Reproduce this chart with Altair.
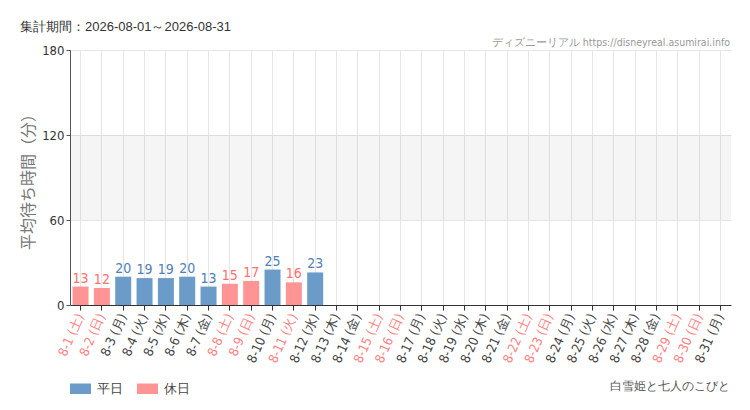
import pandas as pd
import altair as alt

# data
days = ["8-1 (土)", "8-2 (日)", "8-3 (月)", "8-4 (火)", "8-5 (水)", "8-6 (木)", "8-7 (金)",
        "8-8 (土)", "8-9 (日)", "8-10 (月)", "8-11 (火)", "8-12 (水)", "8-13 (木)", "8-14 (金)",
        "8-15 (土)", "8-16 (日)", "8-17 (月)", "8-18 (火)", "8-19 (水)", "8-20 (木)", "8-21 (金)",
        "8-22 (土)", "8-23 (日)", "8-24 (月)", "8-25 (火)", "8-26 (水)", "8-27 (木)", "8-28 (金)",
        "8-29 (土)", "8-30 (日)", "8-31 (月)"]
waits = [13, 12, 20, 19, 19, 20, 13, 15, 17, 25, 16, 23] + [None] * 19
holidays = ["8-1 (土)", "8-2 (日)", "8-8 (土)", "8-9 (日)", "8-11 (火)", "8-15 (土)", "8-16 (日)",
            "8-22 (土)", "8-23 (日)", "8-29 (土)", "8-30 (日)"]
y_ticks = [0, 60, 120, 180]
band_lo = [60]
band_hi = [120]

types = ["休日" if d in holidays else "平日" for d in days]
df = pd.DataFrame({"day": days, "wait": waits, "type": types})
band = pd.DataFrame({"lo": band_lo, "hi": band_hi})

W, H = 661, 255
BLUE, RED = "#6b9bc8", "#ff9494"
NARROW = "DejaVu Sans Condensed"
hol_test = "indexof(" + str(holidays).replace("'", '"') + ", datum.value) >= 0"

x = alt.X("day:N", sort=days, title=None,
          scale=alt.Scale(paddingInner=0.25, paddingOuter=0.12),
          axis=alt.Axis(labelAngle=-66, labelAlign="right", labelBaseline="middle",
                        labelFontSize=13, labelPadding=4, labelFont=NARROW,
                        labelColor={"condition": {"test": hol_test, "value": "#ff7f7f"}, "value": "#444"},
                        bandPosition=0.5, grid=True, gridColor="#e6e6e6",
                        domainColor="#333", tickColor="#333", tickSize=5))
y = alt.Y("wait:Q", title="平均待ち時間（分）",
          scale=alt.Scale(domain=[0, 180]),
          axis=alt.Axis(values=y_ticks, gridColor="#e6e6e6", domainColor="#555",
                        tickColor="#555", tickSize=4, labelFontSize=13, labelFont=NARROW,
                        labelColor="#333", titleFontSize=16, titleColor="#777777",
                        titleFont="Noto Sans CJK JP", titleFontWeight="normal", titlePadding=5))

shade = alt.Chart(band).mark_rect(color="#000", opacity=0.04).encode(
    x=alt.value(0), x2=alt.value(W), y="lo:Q", y2="hi:Q")

bars = alt.Chart(df).mark_bar().encode(
    x=x, y=y,
    color=alt.Color("type:N", scale=alt.Scale(domain=["平日", "休日"], range=[BLUE, RED]),
                    legend=alt.Legend(title=None, orient="none", legendX=0, legendY=328,
                                      direction="horizontal",
                                      symbolType="M-1,-0.5H1V0.5H-1Z", symbolSize=441,
                                      symbolStrokeWidth=0, symbolOpacity=1,
                                      labelFontSize=13, labelColor="#444",
                                      columnPadding=14, labelOffset=6)))

labels = alt.Chart(df).mark_text(baseline="bottom", dy=-1, fontSize=14, font=NARROW).encode(
    x=alt.X("day:N", sort=days), y="wait:Q", text="wait:Q",
    color=alt.condition(alt.datum.type == "休日", alt.value("#ff7070"), alt.value("#4f80b6")))

period = alt.Chart(pd.DataFrame({"t": ["集計期間：2026-08-01～2026-08-31"]})).mark_text(
    align="left", fontSize=13, color="#333").encode(
    x=alt.value(-50), y=alt.value(-23), text="t:N")
site = alt.Chart(pd.DataFrame({"t": ["ディズニーリアル https://disneyreal.asumirai.info"]})).mark_text(
    align="right", fontSize=10.5, color="#999", font=NARROW).encode(
    x=alt.value(660), y=alt.value(-7), text="t:N")
attraction = alt.Chart(pd.DataFrame({"t": ["白雪姫と七人のこびと"]})).mark_text(
    align="right", fontSize=12, color="#555").encode(
    x=alt.value(660), y=alt.value(336), text="t:N")

chart = alt.layer(shade, bars, labels, period, site, attraction).properties(
    width=W, height=H,
    autosize=alt.AutoSizeParams(type="none"),
    padding={"left": 62, "top": 42, "right": 11, "bottom": 97},
    background="#ffffff",
).configure_view(stroke=None).configure_axis(labelFontWeight="normal")

chart.save("out.html", embed_options={"renderer": "svg", "actions": False})
